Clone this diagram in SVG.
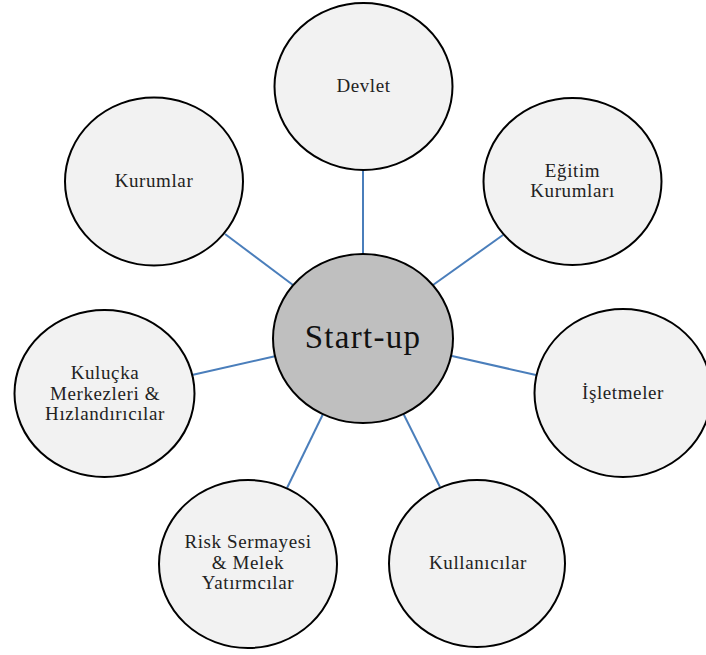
<svg xmlns="http://www.w3.org/2000/svg" width="706" height="655" viewBox="0 0 706 655">
<style>
.node{fill:#f2f2f2;stroke:#000;stroke-width:2}
.center{fill:#bfbfbf;stroke:#000;stroke-width:2}
.lbl{font-family:"Liberation Serif","Times New Roman",serif;font-size:19px;letter-spacing:0.6px;fill:#222;text-anchor:middle}
.big{font-family:"Liberation Serif","Times New Roman",serif;font-size:33px;letter-spacing:1.3px;fill:#111;text-anchor:middle}
.conn line{stroke:#4a7ebb;stroke-width:2}
</style>
<rect width="706" height="655" fill="#fff"/>
<g id="connectors" class="conn">
<line x1="363" y1="170" x2="363" y2="254"/>
<line x1="225" y1="234" x2="293" y2="285"/>
<line x1="433" y1="285" x2="503" y2="235"/>
<line x1="452" y1="356" x2="536" y2="375"/>
<line x1="192" y1="375" x2="276" y2="356"/>
<line x1="287" y1="488" x2="324" y2="412"/>
<line x1="403" y1="413" x2="440" y2="487"/>
</g>
<g id="devlet"><ellipse class="node" cx="363.5" cy="86.5" rx="89" ry="83.5"/><text class="lbl" x="363.5" y="92">Devlet</text></g>
<g id="egitim"><ellipse class="node" cx="572.5" cy="181.5" rx="89" ry="83.5"/><text class="lbl" x="572.5" y="177">Eğitim</text><text class="lbl" x="572.5" y="197">Kurumları</text></g>
<g id="isletmeler"><ellipse class="node" cx="623" cy="393" rx="88.5" ry="84"/><text class="lbl" x="623" y="399">İşletmeler</text></g>
<g id="kullanicilar"><ellipse class="node" cx="477" cy="563.5" rx="88" ry="83.5"/><text class="lbl" x="478" y="569">Kullanıcılar</text></g>
<g id="risk"><ellipse class="node" cx="248" cy="564" rx="89" ry="84"/><text class="lbl" x="248" y="548">Risk Sermayesi</text><text class="lbl" x="248" y="568.5">&amp; Melek</text><text class="lbl" x="248" y="589">Yatırmcılar</text></g>
<g id="kulucka"><ellipse class="node" cx="104.5" cy="393.5" rx="90" ry="83.5"/><text class="lbl" x="105" y="379">Kuluçka</text><text class="lbl" x="105" y="399.5">Merkezleri &amp;</text><text class="lbl" x="105" y="420">Hızlandırıcılar</text></g>
<g id="kurumlar"><ellipse class="node" cx="154" cy="181.5" rx="89" ry="84"/><text class="lbl" x="154" y="187">Kurumlar</text></g>
<g id="startup"><ellipse class="center" cx="363" cy="338.5" rx="90" ry="84.5"/><text class="big" x="363" y="348">Start-up</text></g>
</svg>
